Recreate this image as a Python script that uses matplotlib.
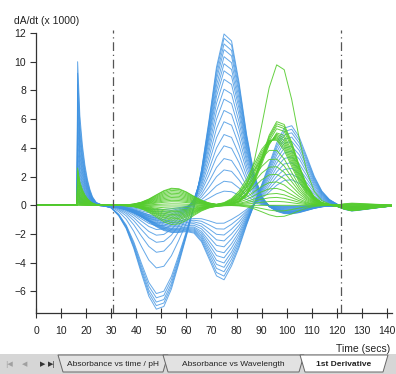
import matplotlib
matplotlib.use("Agg")
import matplotlib.pyplot as plt
import numpy as np
from matplotlib.patches import Polygon, Rectangle

# sampling times (secs)
TIME = [0, 16.4, 16.6, 17.5, 18.5, 19.5, 20.5, 21.5, 22.5, 24,
        27, 30, 33, 36, 39, 42, 45, 48, 51, 54,
        57, 60, 63, 66, 69, 72, 75, 78, 81, 84,
        87, 90, 93, 96, 99, 102, 105, 108, 111, 114,
        117, 120, 123, 126, 129, 132, 135, 138, 141, 144]

# unit shapes (peak = 1)
SPIKE = [0, 0, 1.0, 0.62, 0.42, 0.28, 0.18, 0.11, 0.06, 0.02] + [0] * 40
DIP50 = [0] * 10 + [0.005, 0.025, 0.1, 0.223, 0.411, 0.647, 0.867, 0.991,
                    0.965, 0.801, 0.566, 0.341, 0.175, 0.077, 0.029, 0.009] + [0] * 24
PEAK77 = [0] * 19 + [0.001, 0.007, 0.029, 0.096, 0.249, 0.506, 0.801, 0.986,
                     0.946, 0.707, 0.411, 0.186, 0.066, 0.018, 0.004] + [0] * 16
BROAD = [0] * 9 + [0.008, 0.02, 0.044, 0.089, 0.164, 0.278, 0.43, 0.607, 0.783,
                   0.923, 0.995, 0.98, 0.882, 0.726, 0.546, 0.375, 0.236, 0.135,
                   0.071, 0.034, 0.015, 0.006] + [0] * 19
DIP75 = [0] * 20 + [0.006, 0.031, 0.112, 0.303, 0.607, 0.902, 0.996, 0.83,
                    0.6, 0.33, 0.14, 0.04, 0.01] + [0] * 17
PEAK100 = [0] * 27 + [0.004, 0.017, 0.052, 0.135, 0.291, 0.52, 0.775, 0.96,
                      0.99, 0.849, 0.607, 0.36, 0.178, 0.073, 0.025, 0.007] + [0] * 7
GREEN97 = [0] * 26 + [0.003, 0.014, 0.048, 0.135, 0.306, 0.56, 0.827, 0.988,
                      0.954, 0.744, 0.469, 0.239, 0.098, 0.033, 0.009] + [0] * 9
GREEN90 = [0] * 25 + [0.025, 0.073, 0.178, 0.36, 0.607, 0.849, 0.99, 0.96,
                      0.775, 0.52, 0.291, 0.135, 0.052, 0.017, 0.004] + [0] * 10
LENS = [0] * 12 + [0.007, 0.025, 0.073, 0.178, 0.36, 0.607, 0.849, 0.99,
                   0.96, 0.775, 0.52, 0.291, 0.135, 0.052, 0.017, 0.004] + [0] * 22
TAIL = [0] * 41 + [0.15, 0.7, 1.0, 0.85, 0.68, 0.5, 0.34, 0.18, 0.06]

# blue curves, first group (peak near 77 s)
B1_SPIKE = [10.0, 9.2, 8.4, 7.8, 7.2, 6.6, 6.0, 5.5, 5.0, 4.5, 4.0, 3.6, 3.2, 2.8, 2.4, 2.0, 1.6, 1.2]
B1_DIP50 = [-7.3, -7.05, -6.8, -6.5, -6.2, -4.4, -3.3, -2.6, -2.1, -1.7, -1.45, -1.25,
            -1.05, -0.9, -0.75, -0.6, -0.45, -0.3]
B1_PEAK77 = [12.1, 11.8, 11.4, 11.0, 10.5, 10.0, 9.5, 8.9, 8.2, 7.5, 6.7, 5.9,
             5.0, 4.2, 3.3, 2.5, 1.7, 1.0]
B1_PEAK100 = [-0.6, -0.58, -0.55, -0.52, -0.5, -0.47, -0.45, -0.42, -0.4, -0.36, -0.32, -0.28,
              -0.24, -0.2, -0.16, -0.12, -0.08, -0.05]
B1_TAIL = [-0.4, -0.38, -0.36, -0.34, -0.32, -0.3, -0.28, -0.26, -0.24, -0.22, -0.2, -0.18,
           -0.16, -0.14, -0.12, -0.1, -0.08, -0.06]

# blue curves, second group (dip near 75 s, peak near 100 s)
B2_SPIKE = [1.0, 0.9, 0.8, 0.7, 0.6, 0.5, 0.45, 0.4, 0.35, 0.3, 0.25, 0.2]
B2_BROAD = [-1.9, -1.85, -1.8, -1.75, -1.7, -1.65, -1.6, -1.5, -1.4, -1.3, -1.2, -1.1]
B2_DIP75 = [-4.95, -4.7, -4.4, -4.1, -3.8, -3.45, -3.1, -2.7, -2.3, -1.9, -1.5, -1.1]
B2_PEAK100 = [5.6, 5.35, 5.1, 4.8, 4.5, 4.15, 3.8, 3.4, 3.0, 2.6, 2.2, 1.8]
B2_TAIL = [-0.35, -0.33, -0.31, -0.29, -0.27, -0.25, -0.23, -0.21, -0.19, -0.17, -0.15, -0.13]

# green curves
G_SPIKE = [2.6, 2.4, 2.2, 2.0, 1.8, 1.6, 1.45, 1.3, 1.15, 1.0, 0.9, 0.8,
           0.7, 0.6, 0.5, 0.42, 0.35, 0.28, 0.22, 0.16, 0.1, 0.06, 0.03, 0]
G_LENS = [1.2, 1.15, 1.05, 0.95, 0.85, 0.75, 0.65, 0.55, 0.45, 0.35, 0.25, 0.1,
          -0.05, -0.2, -0.35, -0.45, -0.55, -0.65, -0.75, -0.85, -0.95, -1.05, -1.2, -1.35]
G_PEAK97 = [9.9, 5.9, 5.75, 5.6, 5.4, 5.1, 4.7, 4.3, 3.9, 3.5, 3.1, 2.7,
            2.3, 2.0, 1.7, 1.4, 1.1, 0.8, 0.6, 0.4, 0.2, 0, -0.4, -0.8]
G_PEAK90 = [0, 0, 0, 0, 0, 0, 0.4, 0.8, 1.2, 1.6, 2.0, 2.4,
            2.0, 1.6, 1.3, 1.0, 0.7, 0.5, 0.3, 0.2, 0.1, 0, 0, 0]
G_TAIL = [0.15, 0.12, 0.09, 0.06, 0.03, 0, -0.03, -0.06, -0.09, -0.12, -0.15, -0.18,
          -0.2, -0.22, -0.24, -0.26, -0.28, -0.3, -0.32, -0.34, -0.35, -0.36, -0.37, -0.38]

BLUE = "#3f93e2"
GREEN = "#55cc2e"
AXIS_COLOR = "#333333"
TEXT_COLOR = "#222222"


def build_curves(amplitudes, profiles):
    """Combine unit shapes with per-curve amplitudes."""
    shapes = np.array(profiles, dtype=float)
    weights = np.array(amplitudes, dtype=float).T
    return weights @ shapes


plt.rcParams["font.family"] = ["Liberation Sans", "DejaVu Sans"]

fig = plt.figure(figsize=(3.96, 3.74), dpi=100)
ax = fig.add_axes([36 / 396, 1 - 313 / 374, 356 / 396, 280 / 374])

blue_one = build_curves(
    [B1_SPIKE, B1_DIP50, B1_PEAK77, B1_PEAK100, B1_TAIL],
    [SPIKE, DIP50, PEAK77, PEAK100, TAIL],
)
blue_two = build_curves(
    [B2_SPIKE, B2_BROAD, B2_DIP75, B2_PEAK100, B2_TAIL],
    [SPIKE, BROAD, DIP75, PEAK100, TAIL],
)
green = build_curves(
    [G_SPIKE, G_LENS, G_PEAK97, G_PEAK90, G_TAIL],
    [SPIKE, LENS, GREEN97, GREEN90, TAIL],
)

for curve in blue_one:
    ax.plot(TIME, curve, color=BLUE, linewidth=0.7, alpha=0.8)
for curve in blue_two:
    ax.plot(TIME, curve, color=BLUE, linewidth=0.7, alpha=0.8)
for curve in green:
    ax.plot(TIME, curve, color=GREEN, linewidth=0.7, alpha=0.9)

for marker_time in (30.8, 121.5):
    ax.plot([marker_time, marker_time], [-7.5, 12.2], color="#555555",
            linewidth=0.9, linestyle=(0, (7, 3, 1, 3)), clip_on=False)

ax.set_xlim(0, 142)
ax.set_ylim(-7.5, 12)
ax.set_xticks(range(0, 141, 10))
ax.set_yticks(range(-6, 13, 2))

for side in ("top", "right"):
    ax.spines[side].set_visible(False)
for side in ("left", "bottom"):
    ax.spines[side].set_color(AXIS_COLOR)
    ax.spines[side].set_linewidth(0.9)

ax.tick_params(axis="x", direction="inout", length=7, width=0.8,
               color=AXIS_COLOR, labelcolor=TEXT_COLOR, labelsize=7.5, pad=6)
ax.tick_params(axis="y", direction="out", length=4, width=0.8,
               color=AXIS_COLOR, labelcolor=TEXT_COLOR, labelsize=7.5, pad=3)

fig.text(14 / 396, 1 - 21 / 374, "dA/dt (x 1000)", fontsize=7.5,
         color=TEXT_COLOR, va="center", ha="left")
fig.text(390 / 396, 1 - 349 / 374, "Time (secs)", fontsize=7.5,
         color=TEXT_COLOR, va="center", ha="right")

# sheet tab bar along the bottom
bar = fig.add_axes([0, 0, 1, 20 / 374])
bar.set_xlim(0, 396)
bar.set_ylim(0, 20)
bar.axis("off")
bar.add_patch(Rectangle((0, 0), 396, 20, facecolor="#d6d6d6", edgecolor="none"))

tabs = [
    (58, 168, "Absorbance vs time / pH", False),
    (163, 304, "Absorbance vs Wavelength", False),
    (300, 388, "1st Derivative", True),
]
for left, right, label, active in tabs:
    face = "#ffffff" if active else "#e2e2e2"
    bar.add_patch(Polygon([(left, 19), (left + 5, 2), (right - 5, 2), (right, 19)],
                          closed=True, facecolor=face, edgecolor="#666666",
                          linewidth=0.7))
    bar.text((left + right) / 2, 10, label, fontsize=6.0, color=TEXT_COLOR,
             ha="center", va="center",
             fontweight="bold" if active else "normal")

for x_pos, glyph, shade in [(9, "|◀", "#a0a0a0"), (25, "◀", "#a0a0a0"),
                            (43, "▶", "#333333"), (52, "▶|", "#333333")]:
    bar.text(x_pos, 10, glyph, fontsize=5, color=shade, ha="center",
             va="center", family=["DejaVu Sans"])

fig.savefig("out.png", dpi=100)
